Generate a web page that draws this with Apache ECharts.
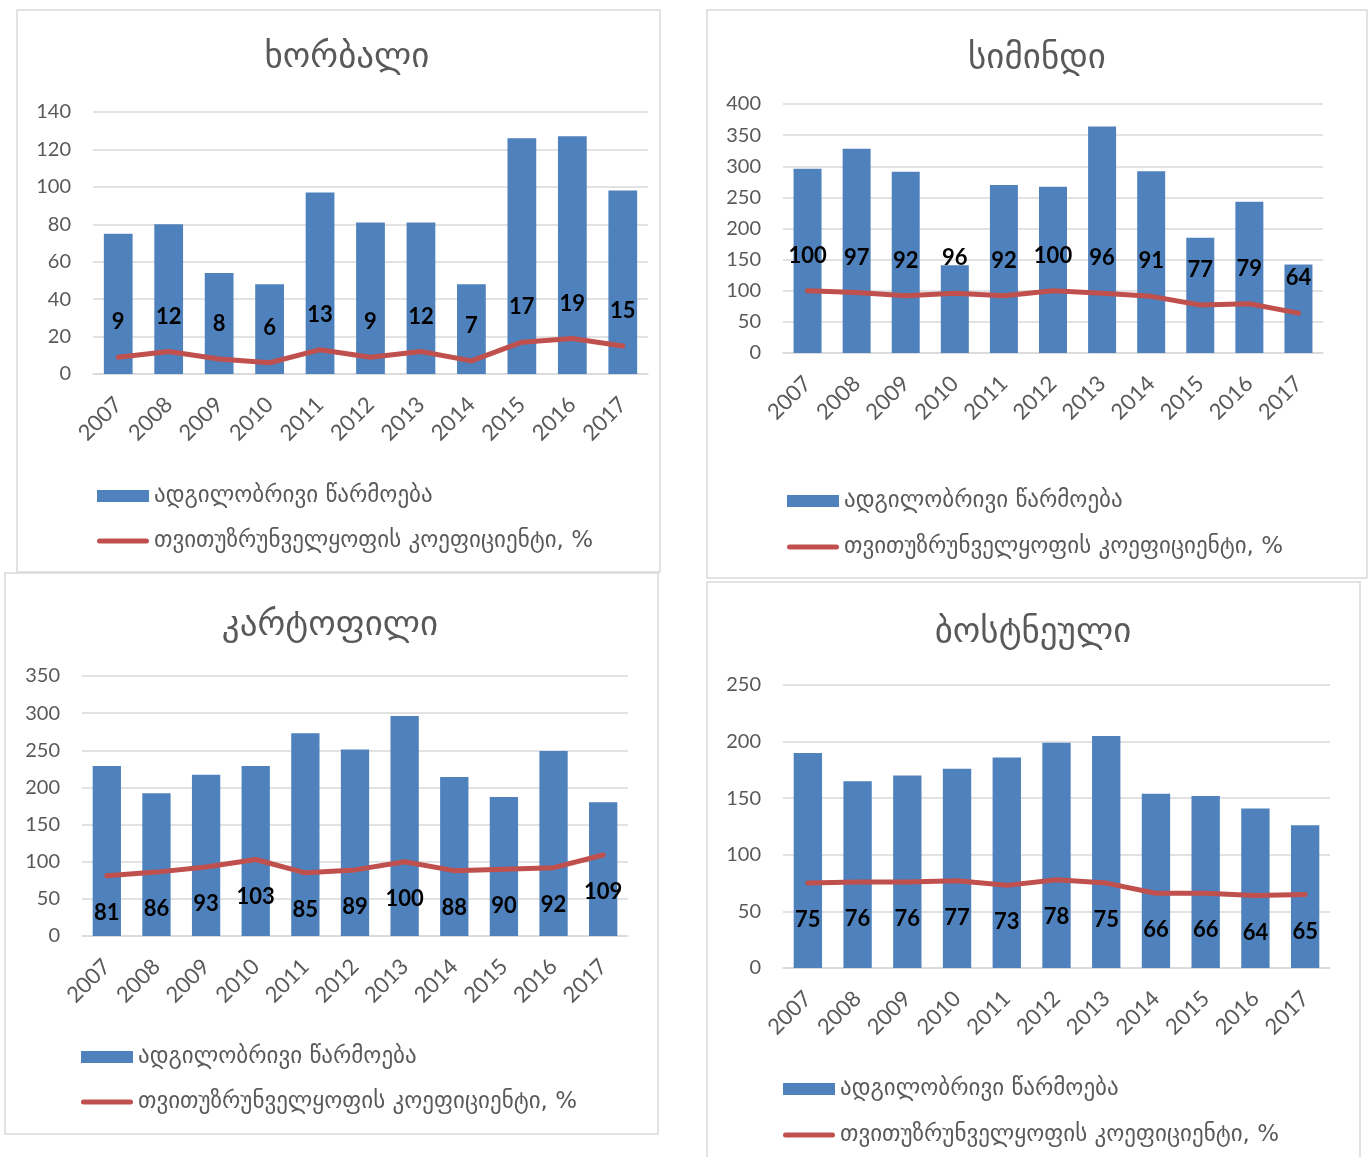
<!DOCTYPE html>
<html>
<head>
<meta charset="utf-8">
<script src="https://cdn.jsdelivr.net/npm/echarts@6/dist/echarts.min.js"></script>
<style>
html,body{margin:0;padding:0;background:#fff;}
#c{width:1372px;height:1157px;}
</style>
</head>
<body>
<div id="c"></div>
<script>
const years = ['2007','2008','2009','2010','2011','2012','2013','2014','2015','2016','2017'];
const prodName = 'ადგილობრივი წარმოება';
const ratioName = 'თვითუზრუნველყოფის კოეფიციენტი, %';
const titles = ['ხორბალი', 'სიმინდი', 'კარტოფილი', 'ბოსტნეული'];

const wheatProd  = [75, 80, 54, 48, 97, 81, 81, 48, 126, 127, 98];
const wheatRatio = [9, 12, 8, 6, 13, 9, 12, 7, 17, 19, 15];
const maizeProd  = [296, 328, 291, 141, 270, 267, 364, 292, 185, 243, 142];
const maizeRatio = [100, 97, 92, 96, 92, 100, 96, 91, 77, 79, 64];
const potatoProd  = [229, 192, 217, 229, 273, 251, 296, 214, 187, 249, 180];
const potatoRatio = [81, 86, 93, 103, 85, 89, 100, 88, 90, 92, 109];
const melonProd  = [190, 165, 170, 176, 186, 199, 205, 154, 152, 141, 126];
const melonRatio = [75, 76, 76, 77, 73, 78, 75, 66, 66, 64, 65];

const yMax = [140, 400, 350, 250];
const yInterval = [20, 50, 50, 50];

const prods = [wheatProd, maizeProd, potatoProd, melonProd];
const ratios = [wheatRatio, maizeRatio, potatoRatio, melonRatio];

// layout
const panels = [
  {box:[17,10,643,562],  grid:[93,112,555,262],  title:[347,58],   legend:[97,483],  gap:19, labelPos:'top'},
  {box:[707,10,660,568], grid:[783,104,540,249], title:[1037,59],  legend:[787,488], gap:20, labelPos:'top'},
  {box:[5,573,653,561],  grid:[82,676,546,260],  title:[330,626],  legend:[81,1044], gap:19, labelPos:'bottom'},
  {box:[707,582,653,600],grid:[783,685,547,283], title:[1033,633], legend:[783,1076],gap:20, labelPos:'bottom'}
];

const GEO = '"DejaVu Sans", sans-serif';
const NUM = 'Lato, "Open Sans", sans-serif';
const GREY = '#595959';
const BLUE = '#4F81BD';
const RED = '#C0504D';
const LINEICON = 'path://M2.5,0 L49.5,0 A2.5,2.5 0 0 1 49.5,5 L2.5,5 A2.5,2.5 0 0 1 2.5,0 Z';

const grid = [], xAxis = [], yAxis = [], series = [], legend = [], graphic = [];

panels.forEach((p, i) => {
  graphic.push({type:'rect', z:0, silent:true,
    shape:{x:p.box[0], y:p.box[1], width:p.box[2], height:p.box[3]},
    style:{fill:'#fff', stroke:'#D9D9D9', lineWidth:1.5}});
});
panels.forEach((p, i) => {
  graphic.push({type:'text', z:5, x:p.title[0], y:p.title[1],
    style:{text:titles[i], fill:GREY, font:'35px ' + GEO, align:'center', verticalAlign:'middle'}});

  grid.push({left:p.grid[0], top:p.grid[1], width:p.grid[2], height:p.grid[3], containLabel:false});
  xAxis.push({type:'category', gridIndex:i, data:years,
    axisTick:{show:false},
    axisLine:{lineStyle:{color:'#D9D9D9', width:1.5}},
    axisLabel:{rotate:45, interval:0, fontSize:22, fontFamily:NUM, color:GREY, margin:27}});
  yAxis.push({type:'value', gridIndex:i, min:0, max:yMax[i], interval:yInterval[i],
    axisLine:{show:false}, axisTick:{show:false},
    splitLine:{lineStyle:{color:'#D9D9D9', width:1.5}},
    axisLabel:{fontSize:20, fontFamily:NUM, color:GREY, margin:22}});
  series.push({type:'bar', name:prodName, xAxisIndex:i, yAxisIndex:i, data:prods[i],
    barCategoryGap:'43%', itemStyle:{color:BLUE}, z:2});
  series.push({type:'line', name:ratioName, xAxisIndex:i, yAxisIndex:i, data:ratios[i],
    symbol:'circle', symbolSize:2, showSymbol:true, itemStyle:{color:RED},
    lineStyle:{color:RED, width:5, cap:'round', join:'round'}, z:3,
    label:{show:true, position:p.labelPos, distance: p.labelPos === 'top' ? 23 : 25,
      color:'#000', fontWeight:'bold', fontSize:22, lineHeight:22, fontFamily:NUM}});
  legend.push({orient:'vertical', left:p.legend[0], top:p.legend[1], padding:0,
    itemWidth:52, itemHeight:12, itemGap:p.gap,
    selectedMode:false,
    textStyle:{fontSize:23, fontFamily:GEO, color:GREY, lineHeight:26},
    data:[
      {name:prodName, icon:'rect', itemStyle:{color:BLUE}},
      {name:ratioName, icon:LINEICON, itemStyle:{color:RED, borderWidth:0}}
    ]});
});

const chart = echarts.init(document.getElementById('c'), null, {renderer:'canvas'});
chart.setOption({
  animation:false,
  backgroundColor:'#fff',
  graphic: graphic,
  grid: grid, xAxis: xAxis, yAxis: yAxis, series: series, legend: legend
});
</script>
</body>
</html>
